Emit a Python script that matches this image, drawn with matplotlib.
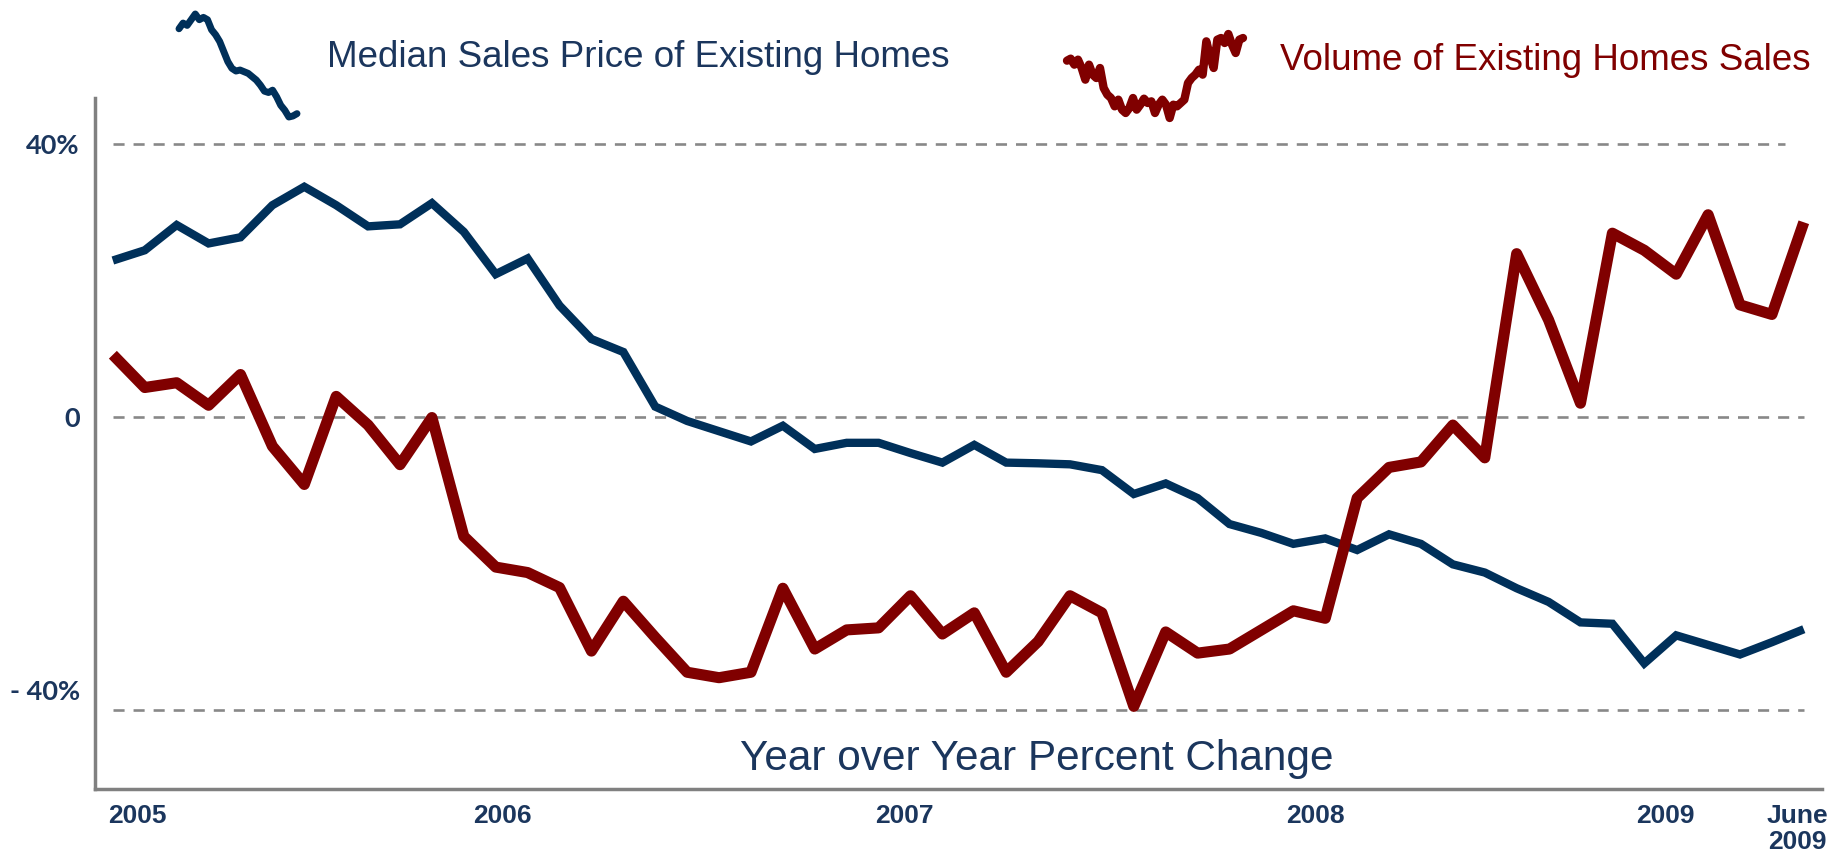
import matplotlib
matplotlib.use("Agg")
import matplotlib.pyplot as plt
import numpy as np

# monthly year-over-year % change, Jan 2005 .. Jun 2009
price_yoy = [22.9, 24.4, 28.1, 25.4, 26.3, 31.0, 33.7, 31.0, 27.9, 28.2, 31.3, 27.1,
             20.9, 23.2, 16.3, 11.4, 9.5, 1.5, -0.6, -2.1, -3.6, -1.3, -4.7, -3.8,
             -3.8, -5.3, -6.7, -4.1, -6.7, -6.8, -6.95, -7.8, -11.3, -9.75, -11.9, -15.7,
             -17.0, -18.6, -17.8, -19.5, -17.2, -18.6, -21.6, -22.8, -25.1, -27.1, -30.1, -30.3,
             -36.1, -32.0, -33.4, -34.8, -33.0, -31.1]
volume_yoy = [9.1, 4.3, 5.0, 1.7, 6.2, -4.3, -9.9, 3.0, -1.2, -7.0, -0.1, -17.5,
              -22.0, -22.8, -25.0, -34.3, -27.0, -32.3, -37.4, -38.2, -37.4, -25.1, -34.0, -31.2,
              -30.9, -26.2, -31.8, -28.7, -37.4, -32.9, -26.2, -28.7, -42.4, -31.5, -34.6, -34.0,
              -31.2, -28.4, -29.5, -11.9, -7.4, -6.6, -1.2, -6.0, 23.9, 14.2, 2.0, 26.9,
              24.4, 20.9, 29.6, 16.4, 15.0, 28.5]

# small long-run icons next to the series names
spark_price = [32.8, 34.5, 33.8, 35.5, 37.2, 35.5, 36.2, 35.5, 32.5, 31.0, 29.0, 26.0,
               23.0, 21.0, 20.2, 20.5, 20.0, 19.5, 18.5, 17.5, 16.0, 14.2, 13.8, 14.5,
               12.5, 10.0, 8.5, 6.5, 6.8, 7.5]
spark_volume = [19.2, 19.8, 18.0, 19.5, 17.0, 13.5, 18.0, 15.0, 14.0, 17.0, 11.0, 9.0,
                8.0, 5.5, 7.5, 4.5, 3.5, 5.0, 8.0, 4.5, 6.0, 7.8, 6.5, 7.0, 3.5, 6.0,
                7.5, 6.0, 2.0, 6.0, 5.5, 6.5, 7.5, 12.5, 14.0, 15.0, 16.5, 15.0, 25.0,
                20.5, 17.0, 25.5, 26.0, 24.5, 27.2, 24.0, 21.5, 25.5, 26.0]

year_labels = ["2005", "2006", "2007", "2008", "2009", "June\n2009"]
year_label_pos = [0.78, 12.2, 24.8, 37.7, 48.65, 52.8]
ytick_vals = [40, 0, -40]
ytick_labels = ["40%", "0", "- 40%"]

NAVY = "#00305a"
TEXT = "#1b365d"
MAROON = "#800000"
GRAY = "#888888"

plt.rcParams["font.family"] = ["Liberation Sans", "DejaVu Sans"]

W, H = 1848, 859
fig = plt.figure(figsize=(W / 100, H / 100), dpi=100)

def px_axes(x0, y0, x1, y1):
    # pixel box (top-left origin) -> figure fraction
    return fig.add_axes([x0 / W, 1 - y1 / H, (x1 - x0) / W, (y1 - y0) / H])

ax = px_axes(95, 98, 1822, 789)
months = np.arange(len(price_yoy))
ax.set_xlim(-0.56, 53.57)
ax.set_ylim(-54.5, 46.7)

# dashed reference lines
dash = dict(color=GRAY, lw=1.9, linestyle=(0, (4.2, 3.4)), zorder=1)
ax.hlines(40, 0, 52.4, **dash)
ax.hlines(0, 0, 53, **dash)
ax.hlines(-43, 0, 53, **dash)

ax.plot(months, price_yoy, color=NAVY, lw=6, solid_joinstyle="miter",
        solid_capstyle="butt", zorder=3)
ax.plot(months, volume_yoy, color=MAROON, lw=8, solid_joinstyle="round",
        solid_capstyle="butt", zorder=3)

for s in ["top", "right"]:
    ax.spines[s].set_visible(False)
for s in ["left", "bottom"]:
    ax.spines[s].set_color("#808080")
    ax.spines[s].set_linewidth(2.5)

ax.set_yticks(ytick_vals, ytick_labels)
ax.tick_params(axis="y", length=0, pad=11, labelsize=19.5, labelcolor=TEXT)
for lbl in ax.get_yticklabels():
    lbl.set_fontfamily(["Lato", "DejaVu Sans"])
    lbl.set_fontweight("bold")

ax.set_xticks(year_label_pos, year_labels)
ax.tick_params(axis="x", length=0, pad=11, labelsize=19, labelcolor=TEXT)
for lbl in ax.get_xticklabels():
    lbl.set_fontweight("bold")
    lbl.set_linespacing(1.1)

fig.text(638 / W, 1 - 67 / H, "Median Sales Price of Existing Homes", ha="center",
         va="baseline", fontsize=26.5, color=TEXT)
fig.text(1545 / W, 1 - 70 / H, "Volume of Existing Homes Sales", ha="center",
         va="baseline", fontsize=26.5, color=MAROON)
fig.text(1037 / W, 1 - 770 / H, "Year over Year Percent Change", ha="center",
         va="baseline", fontsize=30.5, color=TEXT)

# sparkline icons
sp1 = px_axes(179, 14, 297, 117)
sp1.plot(np.arange(len(spark_price)), spark_price, color=NAVY, lw=5,
         solid_joinstyle="round", solid_capstyle="round", clip_on=False)
sp1.set_xlim(0, len(spark_price) - 1)
sp1.set_ylim(min(spark_price), max(spark_price))
sp1.axis("off")

sp2 = px_axes(1067, 34, 1243, 118)
sp2.plot(np.arange(len(spark_volume)), spark_volume, color=MAROON, lw=6,
         solid_joinstyle="round", solid_capstyle="round", clip_on=False)
sp2.set_xlim(0, len(spark_volume) - 1)
sp2.set_ylim(min(spark_volume), max(spark_volume))
sp2.axis("off")

fig.savefig("out.png", dpi=100)
